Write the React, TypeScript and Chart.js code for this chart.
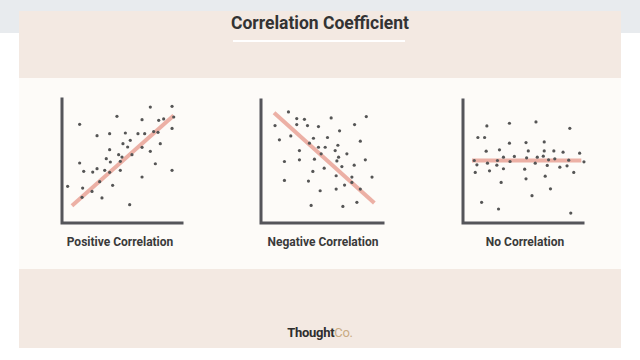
import React, { useEffect, useRef } from "react";
import { Chart, registerables } from "chart.js";

Chart.register(...registerables);

// ---------- data ----------
const TITLE = "Correlation Coefficient";
const PANEL_LABELS = ["Positive Correlation", "Negative Correlation", "No Correlation"];
const BRAND_A = "Thought";
const BRAND_B = "Co.";

const POS_X = [73.6, 91.7, 14.7, 45.8, 93.1, 66.7, 80.6, 84.7, 29.2, 39.7, 52.8, 63.3, 68.9, 91.7, 76.4, 80.0, 56.9, 50.8, 39.7, 54.7, 66.7, 81.9, 73.6, 47.2, 50.0, 58.3, 36.9, 40.3, 48.6, 14.7, 77.8, 18.1, 25.6, 29.2, 35.6, 39.7, 48.6, 91.7, 66.7, 4.7, 17.2, 31.4, 42.2, 25.0, 16.7, 33.3, 56.4];
const POS_Y = [93.5, 94.1, 79.6, 86.0, 85.5, 83.3, 82.8, 83.9, 70.4, 72.0, 72.6, 72.0, 72.0, 76.3, 73.7, 73.1, 66.7, 64.0, 59.1, 61.3, 61.0, 64.0, 57.8, 55.1, 53.2, 55.1, 51.9, 49.2, 49.7, 48.4, 47.8, 41.7, 41.1, 43.8, 42.5, 40.9, 42.5, 42.5, 37.1, 29.6, 28.2, 33.3, 30.4, 25.5, 20.7, 20.2, 14.8];
const POS_LINE_X = [8.3, 93.1];
const POS_LINE_Y = [14.0, 86.6];

const NEG_X = [22.5, 29.3, 35.6, 57.5, 86.3, 11.5, 29.3, 38.1, 47.1, 76.7, 64.4, 15.1, 24.4, 43.0, 54.5, 81.4, 39.7, 47.1, 52.6, 63.0, 31.5, 60.8, 49.3, 70.4, 63.6, 19.2, 31.5, 43.8, 62.2, 85.5, 51.8, 66.3, 76.4, 42.5, 61.6, 74.5, 19.2, 38.9, 91.0, 74.5, 68.5, 48.5, 61.6, 81.4, 41.1, 67.1, 78.6];
const NEG_Y = [90.3, 84.9, 84.3, 85.4, 86.5, 79.2, 80.0, 79.2, 78.4, 80.0, 74.9, 67.6, 70.8, 68.9, 69.5, 66.5, 64.9, 61.6, 61.6, 63.2, 58.9, 58.9, 56.2, 56.2, 53.5, 50.0, 51.4, 51.9, 50.5, 51.4, 44.6, 45.9, 47.0, 41.9, 38.4, 37.3, 34.6, 34.1, 37.3, 33.0, 30.8, 26.2, 27.6, 27.6, 14.3, 13.5, 16.8];
const NEG_LINE_X = [10.7, 92.9];
const NEG_LINE_Y = [89.7, 16.2];

const NONE_X = [38.7, 60.8, 19.9, 89.0, 12.4, 18.0, 38.7, 52.5, 67.7, 19.3, 30.4, 54.4, 67.7, 75.7, 83.4, 97.2, 42.8, 33.7, 53.0, 61.9, 66.9, 71.3, 76.5, 88.1, 100.8, 9.4, 11.6, 20.4, 28.7, 39.2, 60.2, 28.2, 70.2, 80.7, 86.7, 10.2, 22.1, 33.7, 51.4, 92.3, 68.5, 52.5, 31.8, 72.9, 57.5, 15.5, 29.6, 89.8];
const NONE_Y = [81.1, 82.2, 78.9, 77.0, 69.5, 69.5, 64.9, 65.4, 65.9, 58.4, 59.5, 58.6, 58.6, 58.6, 57.6, 56.8, 54.1, 53.5, 53.0, 53.5, 54.3, 51.4, 52.2, 51.1, 49.7, 50.8, 47.3, 48.6, 50.8, 50.0, 48.6, 47.0, 46.8, 45.4, 46.5, 41.1, 42.4, 44.1, 43.8, 41.1, 38.1, 35.9, 33.0, 27.8, 22.2, 16.8, 11.4, 8.1];
const NONE_LINE_X = [7.5, 98.6];
const NONE_LINE_Y = [50.8, 50.8];

// ---------- styles ----------
const PAD = 10;
const DOT = "#555555";
const TREND = "rgba(233, 162, 150, 0.85)";
const AXIS = "#55555a";
const FONT = "Roboto, 'Open Sans', sans-serif";

const PANELS = [
  { xs: POS_X, ys: POS_Y, lx: POS_LINE_X, ly: POS_LINE_Y, left: 61.7, top: 99, right: 182, bottom: 223, label: PANEL_LABELS[0], labelX: 120 },
  { xs: NEG_X, ys: NEG_Y, lx: NEG_LINE_X, ly: NEG_LINE_Y, left: 261, top: 100, right: 383, bottom: 223, label: PANEL_LABELS[1], labelX: 323 },
  { xs: NONE_X, ys: NONE_Y, lx: NONE_LINE_X, ly: NONE_LINE_Y, left: 463, top: 100, right: 583, bottom: 223, label: PANEL_LABELS[2], labelX: 525 },
];

const axesPlugin = {
  id: "lAxes",
  beforeDatasetsDraw(chart: any) {
    const { ctx, chartArea } = chart;
    ctx.save();
    ctx.strokeStyle = AXIS;
    ctx.lineWidth = 3;
    ctx.lineJoin = "miter";
    ctx.lineCap = "square";
    ctx.beginPath();
    ctx.moveTo(chartArea.left, chartArea.top);
    ctx.lineTo(chartArea.left, chartArea.bottom);
    ctx.lineTo(chartArea.right, chartArea.bottom);
    ctx.stroke();
    ctx.restore();
  },
};

function Scatter({ p }: { p: (typeof PANELS)[number] }) {
  const ref = useRef<HTMLCanvasElement>(null);
  useEffect(() => {
    if (!ref.current) return;
    const chart = new Chart(ref.current, {
      type: "scatter",
      data: {
        datasets: [
          {
            data: p.xs.map((x, i) => ({ x, y: p.ys[i] })),
            pointRadius: 1.6,
            pointBackgroundColor: DOT,
            pointBorderWidth: 0,
            clip: false as any,
            order: 1,
          },
          {
            data: p.lx.map((x, i) => ({ x, y: p.ly[i] })),
            showLine: true,
            pointRadius: 0,
            borderColor: TREND,
            borderWidth: 4,
            clip: false as any,
            order: 2,
          },
        ],
      },
      options: {
        animation: false,
        responsive: false,
        maintainAspectRatio: false,
        layout: { padding: PAD },
        plugins: { legend: { display: false }, tooltip: { enabled: false } },
        scales: {
          x: { type: "linear", min: 0, max: 100, display: false },
          y: { type: "linear", min: 0, max: 100, display: false },
        },
      },
      plugins: [axesPlugin],
    });
    return () => chart.destroy();
  }, [p]);
  const w = p.right - p.left + 2 * PAD;
  const h = p.bottom - p.top + 2 * PAD;
  return (
    <canvas
      ref={ref}
      width={w}
      height={h}
      style={{ position: "absolute", left: p.left - PAD, top: p.top - PAD, width: w, height: h }}
    />
  );
}

export default function App() {
  return (
    <div style={{ position: "fixed", left: 0, top: 0, width: 640, height: 360, background: "#ffffff", overflow: "hidden", fontFamily: FONT }}>
      <div style={{ position: "absolute", left: 0, top: 0, width: 640, height: 33, background: "#e8ebee" }} />
      <div style={{ position: "absolute", left: 19, top: 11, width: 602, height: 67, background: "#f3e9e2" }} />
      <div style={{ position: "absolute", left: 19, top: 78, width: 602, height: 191, background: "#fdfbf8" }} />
      <div style={{ position: "absolute", left: 19, top: 269, width: 602, height: 79, background: "#f3e9e2" }} />
      <div style={{ position: "absolute", left: 0, top: 11, width: 640, textAlign: "center", fontSize: 17.5, fontWeight: 700, color: "#333333", lineHeight: "24px" }}>
        {TITLE}
      </div>
      <div style={{ position: "absolute", left: 233, top: 40, width: 172, height: 2, background: "#ffffff" }} />
      {PANELS.map((p, i) => (
        <React.Fragment key={i}>
          <Scatter p={p} />
          <div style={{ position: "absolute", left: p.labelX - 80, top: 234, width: 160, textAlign: "center", fontSize: 12, fontWeight: 700, color: "#3a3a3a", lineHeight: "16px" }}>
            {p.label}
          </div>
        </React.Fragment>
      ))}
      <div style={{ position: "absolute", left: 0, top: 325, width: 640, textAlign: "center", fontSize: 13, fontWeight: 700, lineHeight: "16px", letterSpacing: -0.3 }}>
        <span style={{ color: "#2e2e2e" }}>{BRAND_A}</span>
        <span style={{ color: "#c9ab82", fontWeight: 400 }}>{BRAND_B}</span>
      </div>
    </div>
  );
}
